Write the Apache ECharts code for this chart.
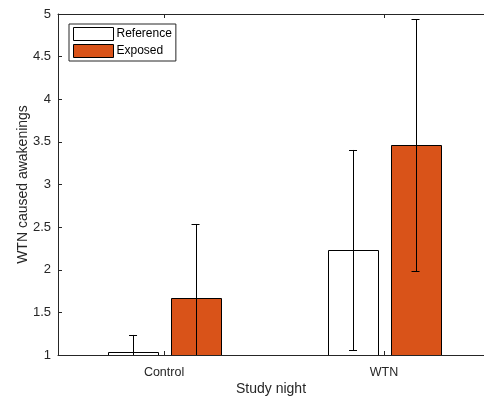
<!DOCTYPE html>
<html><head><meta charset="utf-8">
<script src="https://cdn.jsdelivr.net/npm/echarts@6/dist/echarts.min.js"></script>
<style>html,body{margin:0;padding:0;background:#fff}#c{width:484px;height:403px}</style>
</head><body><div id="c"></div>
<script>
const categories = ['Control', 'WTN'];
const seriesNames = ['Reference', 'Exposed'];
const referenceMean = [1.04, 2.23];
const referenceErr = [0.195, 1.175];
const exposedMean = [1.665, 3.46];
const exposedErr = [0.872, 1.48];
const yTicks = [1, 1.5, 2, 2.5, 3, 3.5, 4, 4.5, 5];

const chart = echarts.init(document.getElementById('c'));
const font = 'Liberation Sans, Arial, Helvetica, sans-serif';
const txt = '#262626';

function makeSeries(name, means, errs, offset, color) {
  const data = means.map((m, i) => [i + 1, m, errs[i]]);
  return {
    type: 'custom', name: name, clip: true, data: data,
    itemStyle: { color: color, borderColor: '#000', borderWidth: 1 },
    encode: { x: 0, y: 1 },
    renderItem: function (params, api) {
      const x = api.value(0) + offset;
      const m = api.value(1), e = api.value(2);
      const halfW = 0.1136;
      const p0 = api.coord([x - halfW, 1]);
      const p1 = api.coord([x + halfW, m]);
      const c = api.coord([x, m]);
      const up = api.coord([x, m + e]);
      const lo = api.coord([x, m - e]);
      const cap = 4;
      const ls = { stroke: '#000', lineWidth: 1 };
      return {
        type: 'group', children: [
          { type: 'rect', shape: { x: Math.round(p0[0]) + 0.5, y: Math.round(p1[1]) + 0.5, width: Math.round(p1[0] - p0[0]), height: Math.round(p0[1] - p1[1]) }, style: { fill: color, stroke: '#000', lineWidth: 1 } },
          { type: 'line', shape: { x1: Math.round(c[0]) + 0.5, y1: up[1], x2: Math.round(c[0]) + 0.5, y2: lo[1] }, style: ls },
          { type: 'line', shape: { x1: c[0] - cap, y1: Math.round(up[1]) + 0.5, x2: c[0] + cap, y2: Math.round(up[1]) + 0.5 }, style: ls },
          { type: 'line', shape: { x1: c[0] - cap, y1: Math.round(lo[1]) + 0.5, x2: c[0] + cap, y2: Math.round(lo[1]) + 0.5 }, style: ls }
        ]
      };
    }
  };
}

const xMin = 0.518, xMax = 2.4545;
const option = {
  animation: false,
  grid: { left: 58, top: 14, right: 0, height: 341, containLabel: false },
  legend: {
    left: 69, top: 24, orient: 'vertical',
    backgroundColor: '#fff', borderColor: '#262626', borderWidth: 1,
    padding: [3, 4, 3, 4], itemGap: 3, itemWidth: 40, itemHeight: 13,
    icon: 'rect',
    textStyle: { fontFamily: font, fontSize: 12, color: '#000', padding: [0, 0, 0, -2] },
    data: [
      { name: seriesNames[0], itemStyle: { color: '#ffffff', borderColor: '#000', borderWidth: 1 } },
      { name: seriesNames[1], itemStyle: { color: '#D95319', borderColor: '#000', borderWidth: 1 } }
    ]
  },
  xAxis: [{
    type: 'value', min: xMin, max: xMax,
    name: 'Study night', nameLocation: 'middle', nameGap: 27, nameMoveOverlap: false,
    nameTextStyle: { fontFamily: font, fontSize: 14, color: txt },
    axisLine: { show: true, onZero: false, lineStyle: { color: txt, width: 1 } },
    axisTick: { show: true, inside: true, length: 4, customValues: [1, 2], lineStyle: { color: txt } },
    axisLabel: { customValues: [1, 2], fontFamily: font, fontSize: 12.5, color: txt, margin: 11,
      formatter: v => categories[Math.round(v) - 1] || '' },
    splitLine: { show: false }
  }, {
    type: 'value', position: 'top', min: xMin, max: xMax,
    axisLine: { show: true, onZero: false, lineStyle: { color: txt, width: 1 } },
    axisTick: { show: true, inside: true, length: 4, customValues: [1, 2], lineStyle: { color: txt } },
    axisLabel: { show: false }, splitLine: { show: false }
  }],
  yAxis: {
    type: 'value', min: 1, max: 5, interval: 0.5,
    name: 'WTN caused awakenings', nameLocation: 'middle', nameGap: 28, nameMoveOverlap: false,
    nameTextStyle: { fontFamily: font, fontSize: 14, color: txt },
    axisLine: { show: true, lineStyle: { color: txt, width: 1 } },
    axisTick: { show: true, inside: true, length: 4, lineStyle: { color: txt } },
    axisLabel: { fontFamily: font, fontSize: 13, color: txt, margin: 7,
      formatter: v => String(yTicks.find(t => Math.abs(t - v) < 1e-6) ?? v) },
    splitLine: { show: false }
  },
  series: [
    makeSeries(seriesNames[0], referenceMean, referenceErr, -0.1409, '#ffffff'),
    makeSeries(seriesNames[1], exposedMean, exposedErr, 0.1432, '#D95319')
  ]
};
chart.setOption(option);
</script>
</body></html>
